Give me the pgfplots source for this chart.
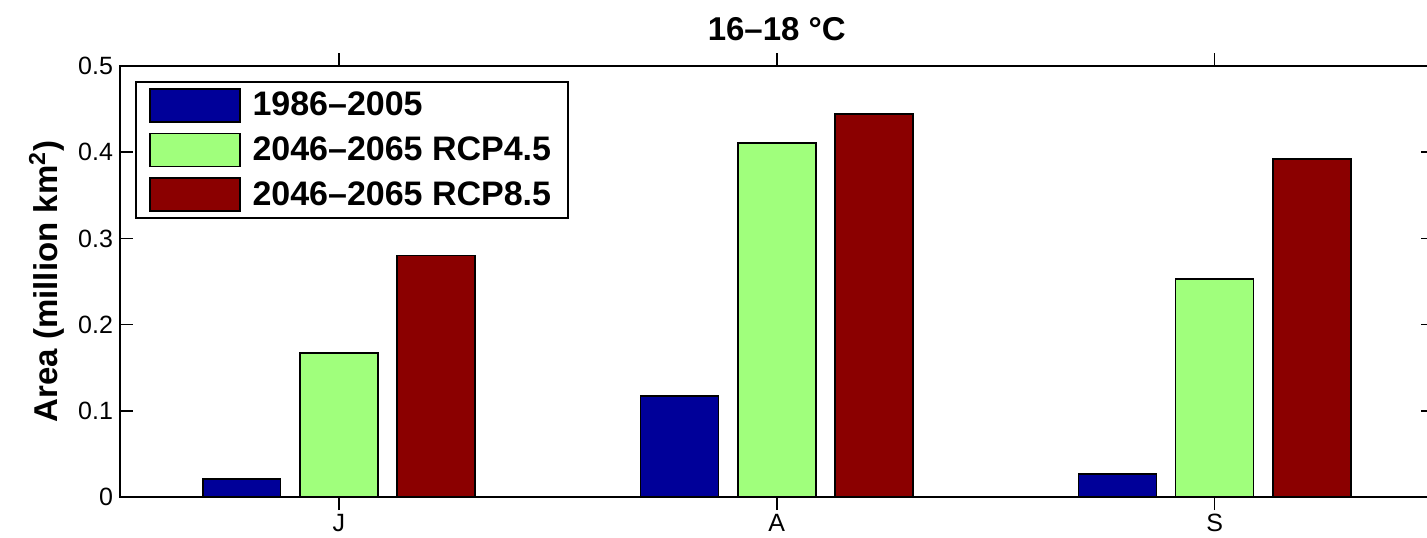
\documentclass[border=0pt]{standalone}
\usepackage{fontspec}
\setmainfont{Liberation Sans}
\usepackage{pgfplots}
\pgfplotsset{compat=1.18}

\definecolor{mblue}{HTML}{000099}
\definecolor{mgreen}{HTML}{A0FF7C}
\definecolor{mred}{HTML}{8B0000}

\pgfplotsset{
  barleg/.style={legend image code/.code={\draw[##1,draw=black,line width=0.8pt] (0pt,-8.25pt) rectangle (45pt,8.25pt);}},
}

\begin{document}
\begin{tikzpicture}
\begin{axis}[name=ax,
  scale only axis, width=656.75pt, height=215.5pt,
  xmin=0.5, xmax=3.5, ymin=0, ymax=0.5,
  xtick={1,2,3}, xticklabels={J,A,S},
  ytick={0,0.1,0.2,0.3,0.4,0.5},
  tick align=inside, tick pos=both, major tick length=6.5pt,
  axis line style={line width=0.8pt}, every tick/.style={black,line width=0.8pt},
  /pgf/number format/assume math mode=true,
  yticklabel style={/pgf/number format/fixed, /pgf/number format/precision=1},
  tick label style={font=\fontsize{12.5}{15}\selectfont},
  xticklabel style={yshift=1.5pt},
  title={\bfseries 16–18 °C},
  title style={font=\fontsize{16.5}{19}\selectfont, yshift=3pt},
  ylabel={\bfseries Area (million km\textsuperscript{2})},
  ylabel style={font=\fontsize{16.5}{19}\selectfont},
  legend cell align=left,
  legend style={at={(0.0115,0.965)}, anchor=north west, draw=black, line width=0.8pt,
    font=\bfseries\fontsize{17}{20}\selectfont, inner xsep=6.5pt, inner ysep=3pt,
    row sep=5pt, /tikz/every odd column/.append style={column sep=4pt}},
  ybar, bar width=0.178,
]
\addplot[barleg, fill=mblue, draw=black, line width=0.8pt, bar shift=-0.222]
  coordinates {(1,0.021) (2,0.117) (3,0.027)};
\addplot[barleg, fill=mgreen, draw=black, line width=0.8pt, bar shift=0]
  coordinates {(1,0.167) (2,0.411) (3,0.253)};
\addplot[barleg, fill=mred, draw=black, line width=0.8pt, bar shift=0.222]
  coordinates {(1,0.280) (2,0.444) (3,0.392)};
\legend{1986–2005, 2046–2065 RCP4.5, 2046–2065 RCP8.5}
\end{axis}
\pgfresetboundingbox
\useasboundingbox ([shift={(-60pt,-20pt)}]ax.south west) rectangle ([shift={(-3.25pt,33pt)}]ax.north east);
\end{tikzpicture}
\end{document}
